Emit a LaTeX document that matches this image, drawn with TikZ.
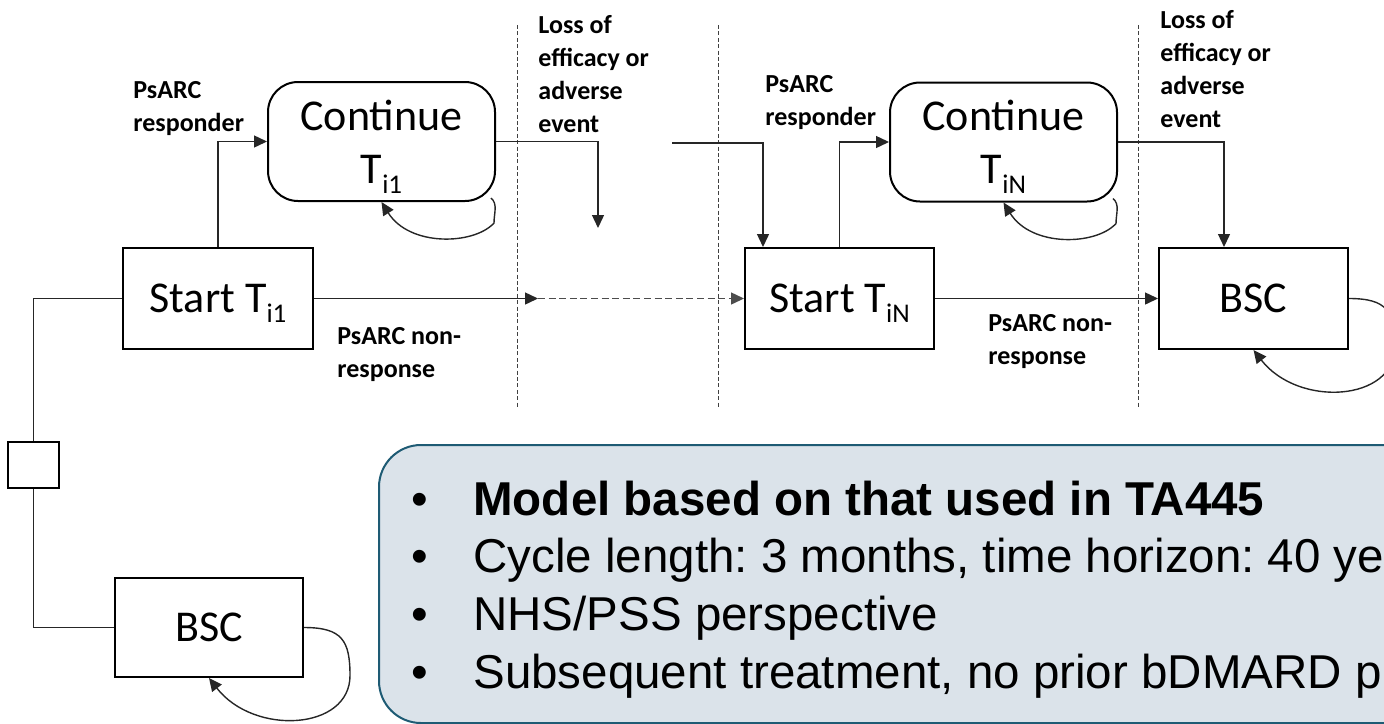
\documentclass[tikz,border=0pt]{standalone}
\usepackage{fontspec}
\setmainfont{Carlito}
\newfontfamily\arialfont{Liberation Sans}
\usetikzlibrary{arrows.meta}
\frenchspacing

\definecolor{infoedge}{HTML}{1E5B74}
\definecolor{infofill}{HTML}{DBE3EA}

\newcommand\statefont{\fontsize{22}{26.5}\selectfont}
\newcommand\notefont{\bfseries\fontsize{13}{16.5}\selectfont}
\newcommand\infofont{\arialfont\fontsize{23.75}{28.85}\selectfont}
% lowered index after a treatment letter, kept out of the box height
\newcommand\low[1]{\smash{\raisebox{-5pt}{\fontsize{13.5}{13.5}\selectfont #1}}}
\newcommand\bulletline[1]{\hbox{\makebox[31pt][l]{•}#1}}

\begin{document}
\begin{tikzpicture}[x=0.5pt,y=-0.5pt,
  every node/.style={inner sep=0pt},
  state/.style={draw,line width=1pt,minimum height=50.5pt,font=\statefont},
  contbox/.style={draw,line width=1pt,rounded corners=15pt,minimum width=113.5pt,
    minimum height=59.5pt,align=center,font=\statefont},
  wire/.style={line width=0.7pt,black!85},
  flow/.style={wire,-{Triangle[length=6.5pt,width=6pt]}},
  note/.style={anchor=base west,font=\notefont},
  divider/.style={line width=0.5pt,black!75,dash pattern=on 2pt off 1.2pt},
]
\useasboundingbox (0,0) rectangle (1384,723);
\clip (0,0) rectangle (1384,723);

% cycle boundaries
\coordinate (d1t) at (517,25);  \coordinate (d1b) at (517,407);
\coordinate (d2t) at (718,25);  \coordinate (d2b) at (718,407);
\coordinate (d3t) at (1138,25); \coordinate (d3b) at (1138,407);
\draw[divider] (d1t) -- (d1b);
\draw[divider] (d2t) -- (d2b);
\draw[divider] (d3t) -- (d3b);

% health states
\node[state,minimum width=95pt] (s1) at (218,298.5) {Start T\low{i1}};
\node[contbox] (c1) at (381.5,141.5) {Continue\\T\low{i1}};
\node[state,minimum width=94.5pt] (sN) at (839.5,298.5) {Start T\low{iN}};
\node[contbox] (cN) at (1003.5,142) {Continue\\T\low{iN}};
\node[state,minimum width=94.5pt] (bR) at (1253.5,298.5) {BSC};
\node[state,minimum width=94pt,minimum height=49.5pt] (bB) at (209,627.5) {BSC};
\node[draw,line width=1pt,minimum width=25.5pt,minimum height=23pt] (dec) at (33.5,465) {};

% decision branches
\draw[wire] (s1.west) -| (dec.north);
\draw[wire] (dec.south) |- (bB.west);

% responders
\draw[flow] (s1.north) |- (c1.west);
\draw[flow] (sN.north) |- (cN.west);

% loss of efficacy / adverse event
\coordinate (drop1) at (598,228);
\draw[flow] (c1.east) -| (drop1);
\coordinate (feed) at (672,143);
\draw[flow] (feed) -| ([xshift=9.5pt]sN.north west);
\draw[flow] (cN.east) -| ([xshift=-14.75pt]bR.north);

% non-response
\coordinate (gap) at (538,298.5);
\draw[flow] (s1.east) -- (gap);
\draw[wire,black!70,dash pattern=on 3.5pt off 1.8pt,-{Triangle[length=6.5pt,width=6pt]}] (gap) -- (sN.west);
\draw[flow] (sN.east) -- (bR.west);

% staying in a state
\draw[flow] ([shift={(-5,-4)}]c1.south east) .. controls +(7,6) and +(0,-10) .. ++(3,25)
  .. controls +(-20,22) and +(28,45) .. (c1.south);
\draw[flow] ([shift={(-5,-4)}]cN.south east) .. controls +(7,6) and +(0,-10) .. ++(3,25)
  .. controls +(-20,22) and +(28,45) .. (cN.south);
\draw[flow] (bR.east) .. controls +(38,0) and +(0,-35) .. ++(46,48)
  .. controls +(0,55) and +(45,58) .. (bR.south);
\draw[flow] (bB.east) .. controls +(38,0) and +(0,-35) .. ++(46,48)
  .. controls +(0,55) and +(45,58) .. (bB.south);

% transition labels
\node[note] (lr1) at (133,98) {\vtop{\hbox{PsARC}\hbox{responder}}};
\node[note] (lr2) at (765,92) {\vtop{\hbox{PsARC}\hbox{responder}}};
\node[note] (ll1) at (538,33) {\vtop{\hbox{Loss of}\hbox{efficacy or}\hbox{adverse}\hbox{event}}};
\node[note] (ll2) at (1160,28) {\vtop{\hbox{Loss of}\hbox{efficacy or}\hbox{adverse}\hbox{event}}};
\node[note] (ln1) at (337,344) {\vtop{\hbox{PsARC non-}\hbox{response}}};
\node[note] (ln2) at (988,331) {\vtop{\hbox{PsARC non-}\hbox{response}}};

% key facts panel
\node[draw=infoedge,fill=infofill,line width=1pt,rounded corners=21pt,anchor=north west,
  minimum width=600pt,minimum height=139pt] (info) at (378,444) {};
\node[anchor=base west,font=\infofont] (facts) at (411,515) {\vtop{%
  \bulletline{\textbf{Model based on that used in TA445}}%
  \bulletline{Cycle length: 3 months, time horizon: 40 ye}%
  \bulletline{NHS/PSS perspective}%
  \bulletline{Subsequent treatment, no prior bDMARD p}}};
\end{tikzpicture}
\end{document}
